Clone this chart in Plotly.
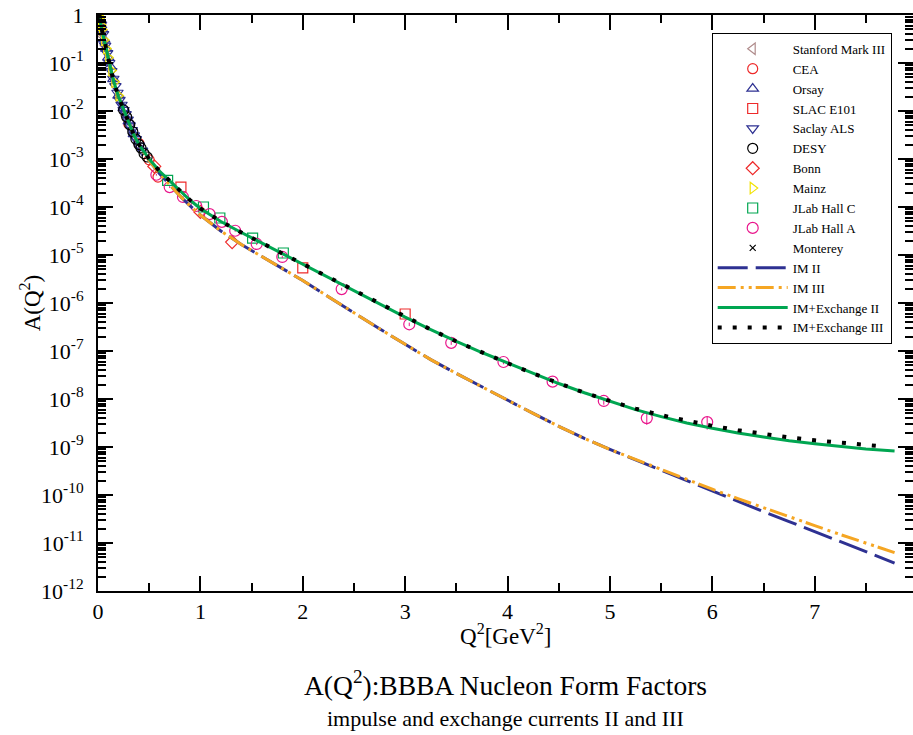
import plotly.graph_objects as go

# ---------------- data ----------------
# theory curves
q_curve = [0, 0.02, 0.05, 0.1, 0.15, 0.2, 0.25, 0.3, 0.35, 0.4, 0.45, 0.5, 0.6, 0.7, 0.8,
           0.9, 1.0, 1.2, 1.4, 1.6, 1.8, 2.0, 2.25, 2.5, 2.75, 3.0, 3.25, 3.5, 3.75, 4.0,
           4.25, 4.5, 4.75, 5.0, 5.25, 5.5, 5.75, 6.0, 6.25, 6.5, 6.75, 7.0, 7.25, 7.5, 7.78]
imx2 = [1.0, 0.76, 0.38, 0.126, 0.0437, 0.020, 0.0107, 5.75e-3, 3.16e-3, 2.0e-3, 1.38e-3, 1.0e-3,
        5.6e-4, 3.47e-4, 2.14e-4, 1.38e-4, 9.3e-5, 5.0e-5, 2.95e-5, 1.78e-5, 1.05e-5, 6.3e-6,
        3.4e-6, 1.82e-6, 9.8e-7, 5.1e-7, 2.8e-7, 1.58e-7, 9.3e-8, 5.6e-8, 3.4e-8, 2.1e-8,
        1.35e-8, 8.9e-9, 6.0e-9, 4.3e-9, 3.16e-9, 2.45e-9, 1.95e-9, 1.62e-9, 1.35e-9, 1.17e-9,
        1.02e-9, 9.1e-10, 8.3e-10]
im2 = [1.0, 0.76, 0.38, 0.126, 0.0437, 0.020, 0.0107, 5.75e-3, 3.16e-3, 2.0e-3, 1.38e-3, 9.3e-4,
       5.0e-4, 2.9e-4, 1.7e-4, 1.05e-4, 6.8e-5, 3.16e-5, 1.66e-5, 9.3e-6, 5.2e-6, 2.95e-6,
       1.35e-6, 6.2e-7, 2.9e-7, 1.38e-7, 6.6e-8, 3.4e-8, 1.78e-8, 9.3e-9, 5.0e-9, 2.7e-9,
       1.51e-9, 8.9e-10, 5.4e-10, 3.2e-10, 1.95e-10, 1.2e-10, 7.4e-11, 4.5e-11, 2.8e-11,
       1.74e-11, 1.07e-11, 6.6e-12, 3.8e-12]
im3 = [1.0, 0.76, 0.38, 0.126, 0.0437, 0.020, 0.0107, 5.75e-3, 3.16e-3, 2.0e-3, 1.38e-3, 9.3e-4,
       5.0e-4, 2.9e-4, 1.7e-4, 1.05e-4, 6.8e-5, 3.16e-5, 1.66e-5, 9.3e-6, 5.2e-6, 2.95e-6,
       1.35e-6, 6.2e-7, 2.9e-7, 1.38e-7, 6.6e-8, 3.4e-8, 1.78e-8, 9.3e-9, 5.0e-9, 2.7e-9,
       1.51e-9, 8.9e-10, 5.5e-10, 3.4e-10, 2.1e-10, 1.32e-10, 8.4e-11, 5.4e-11, 3.5e-11,
       2.3e-11, 1.5e-11, 9.8e-12, 6.3e-12]
q_imx3 = [0, 0.02, 0.05, 0.1, 0.15, 0.2, 0.25, 0.3, 0.35, 0.4, 0.45, 0.5, 0.6, 0.7, 0.8,
          0.9, 1.0, 1.2, 1.4, 1.6, 1.8, 2.0, 2.25, 2.5, 2.75, 3.0, 3.25, 3.5, 3.75, 4.0,
          4.25, 4.5, 4.75, 5.0, 5.25, 5.5, 5.75, 6.0, 6.25, 6.5, 6.75, 7.0, 7.25, 7.5, 7.68]
imx3 = [1.0, 0.76, 0.38, 0.126, 0.0437, 0.020, 0.0107, 5.75e-3, 3.16e-3, 2.0e-3, 1.38e-3, 1.0e-3,
        5.6e-4, 3.47e-4, 2.14e-4, 1.38e-4, 9.3e-5, 5.0e-5, 2.95e-5, 1.78e-5, 1.05e-5, 6.3e-6,
        3.4e-6, 1.82e-6, 9.8e-7, 5.1e-7, 2.8e-7, 1.58e-7, 9.3e-8, 5.6e-8, 3.4e-8, 2.1e-8,
        1.35e-8, 9.1e-9, 6.3e-9, 4.6e-9, 3.5e-9, 2.75e-9, 2.24e-9, 1.86e-9, 1.58e-9, 1.38e-9,
        1.23e-9, 1.1e-9, 1.02e-9]

# experimental data
stanford_q = [0.01, 0.03, 0.05, 0.07, 0.27]
stanford_a = [0.85, 0.58, 0.36, 0.23, 8.0e-3]
cea_q = [0.30, 0.40, 0.50, 0.586]
cea_a = [5.4e-3, 2.1e-3, 9.6e-4, 4.2e-4]
orsay_q = [0.005, 0.01, 0.02, 0.03, 0.04, 0.06, 0.08, 0.10, 0.12, 0.15, 0.20, 0.25, 0.30, 0.35]
orsay_a = [0.94, 0.87, 0.74, 0.61, 0.50, 0.31, 0.20, 0.13, 0.085, 0.046, 0.021, 0.0115, 0.0061, 0.0033]
slac_q = [0.81, 2.0, 3.0]
slac_a = [2.6e-4, 5.4e-6, 5.9e-7]
saclay_q = [0.03, 0.05, 0.07, 0.09, 0.11, 0.13, 0.15, 0.17, 0.19, 0.21, 0.23, 0.25, 0.27,
            0.29, 0.31, 0.33, 0.35, 0.37, 0.40, 0.43]
saclay_a = [0.63, 0.40, 0.23, 0.16, 0.10, 0.068, 0.047, 0.033, 0.024, 0.017, 0.0135, 0.0105,
            0.0086, 0.0066, 0.0050, 0.0040, 0.0031, 0.0026, 0.0019, 0.0015]
desy_q = [0.25, 0.28, 0.31, 0.34, 0.37, 0.40, 0.42, 0.45, 0.48]
desy_a = [0.0105, 0.0075, 0.0052, 0.0037, 0.0026, 0.0020, 0.0017, 0.0013, 0.0011]
bonn_q = [0.55, 1.0, 1.31]
bonn_a = [7.0e-4, 7.9e-5, 1.86e-5]
mainz_q = [0.002, 0.005, 0.01, 0.015, 0.02, 0.03, 0.04, 0.06, 0.08, 0.10, 0.13, 0.16, 0.20]
mainz_a = [0.97, 0.93, 0.86, 0.80, 0.75, 0.62, 0.50, 0.30, 0.20, 0.13, 0.07, 0.040, 0.021]
hallc_q = [0.68, 1.03, 1.19, 1.51, 1.81]
hallc_a = [3.6e-4, 1.0e-4, 5.9e-5, 2.24e-5, 1.1e-5]
halla_q = [0.57, 0.70, 0.83, 0.96, 1.09, 1.21, 1.34, 1.55, 1.80, 2.38, 3.04, 3.45, 3.96,
           4.44, 4.94, 5.36, 5.95]
halla_a = [4.7e-4, 2.6e-4, 1.62e-4, 1.05e-4, 7.1e-5, 4.9e-5, 3.2e-5, 1.7e-5, 9.1e-6, 1.95e-6,
           3.6e-7, 1.48e-7, 5.9e-8, 2.3e-8, 9.1e-9, 4.0e-9, 3.3e-9]
halla_err = [2.0e-5, 1.2e-5, 8.0e-6, 5.0e-6, 3.5e-6, 2.5e-6, 1.6e-6, 9.0e-7, 5.0e-7, 1.2e-7,
             3.0e-8, 1.4e-8, 6.0e-9, 2.5e-9, 1.5e-9, 1.1e-9, 1.0e-9]
monterey_q = [0.003, 0.008, 0.015]
monterey_a = [0.96, 0.89, 0.80]

y_tickvals = [1, 1e-1, 1e-2, 1e-3, 1e-4, 1e-5, 1e-6, 1e-7, 1e-8, 1e-9, 1e-10, 1e-11, 1e-12]
y_ticktext = ["1"] + ["10<sup>-%d</sup>" % k for k in range(1, 13)]
x_tickvals = [0, 1, 2, 3, 4, 5, 6, 7]

# ---------------- figure ----------------
FONT = "Liberation Serif"
RED = "#ee2a2a"
NAVY = "#2e3192"
GREEN = "#00a651"
MAG = "#e9168c"
ORANGE = "#f5a623"

fig = go.Figure()

def mk(name, q, a, symbol, color, size=10, err=None):
    tr = go.Scatter(x=q, y=a, mode="markers", name=name,
                    marker=dict(symbol=symbol, size=size, color=color,
                                line=dict(color=color, width=1.2)))
    if err is not None:
        tr.error_y = dict(type="data", array=err, visible=True, color=color,
                          thickness=1, width=0)
    fig.add_trace(tr)

mk("Stanford Mark III", stanford_q, stanford_a, "triangle-left-open", "#b08c8c")
mk("CEA", cea_q, cea_a, "circle-open", RED)
mk("Orsay", orsay_q, orsay_a, "triangle-up-open", NAVY)
mk("SLAC E101", slac_q, slac_a, "square-open", RED)
mk("Saclay ALS", saclay_q, saclay_a, "triangle-down-open", NAVY)
mk("DESY", desy_q, desy_a, "circle-open", "black")
mk("Bonn", bonn_q, bonn_a, "diamond-open", RED)
mk("Mainz", mainz_q, mainz_a, "triangle-right-open", "#f2e200")
mk("JLab Hall C", hallc_q, hallc_a, "square-open", GREEN)
mk("JLab Hall A", halla_q, halla_a, "circle-open", MAG, size=11, err=halla_err)
mk("Monterey", monterey_q, monterey_a, "x-thin-open", "black", size=6)

fig.add_trace(go.Scatter(x=q_curve, y=im2, mode="lines", name="IM II",
                         line=dict(color=NAVY, width=3, dash="30px,8px")))
fig.add_trace(go.Scatter(x=q_curve, y=im3, mode="lines", name="IM III",
                         line=dict(color=ORANGE, width=3, dash="18px,5px,3px,5px,3px,4px")))
fig.add_trace(go.Scatter(x=q_curve, y=imx2, mode="lines", name="IM+Exchange II",
                         line=dict(color=GREEN, width=3)))
fig.add_trace(go.Scatter(x=q_imx3, y=imx3, mode="lines", name="IM+Exchange III",
                         line=dict(color="black", width=4, dash="4px,11px")))

axis_common = dict(showline=True, linecolor="black", linewidth=2, mirror="ticks",
                   ticks="inside", tickcolor="black", tickwidth=1.5, ticklen=15,
                   showgrid=False, zeroline=False,
                   tickfont=dict(family=FONT, size=22, color="black"))

fig.update_xaxes(range=[0, 7.96], tickvals=x_tickvals,
                 minor=dict(ticks="inside", ticklen=8, tickcolor="black", tickwidth=1.5,
                            dtick=0.5, showgrid=False),
                 **axis_common)
fig.update_yaxes(type="log", range=[-12, 0], tickvals=y_tickvals, ticktext=y_ticktext,
                 ticklabelstandoff=8,
                 minor=dict(ticks="inside", ticklen=8, tickcolor="black", tickwidth=1.5,
                            dtick="D1", showgrid=False),
                 **axis_common)

fig.update_layout(
    width=913, height=735,
    margin=dict(l=98, r=0, t=15, b=144, autoexpand=False),
    paper_bgcolor="white", plot_bgcolor="white",
    font=dict(family=FONT, color="black"),
    showlegend=True,
    legend=dict(x=0.753, y=0.969, xanchor="left", yanchor="top",
                bgcolor="white", bordercolor="black", borderwidth=1,
                font=dict(family=FONT, size=13, color="black"),
                itemwidth=70, tracegroupgap=0),
    annotations=[
        dict(text="Q<sup>2</sup>[GeV<sup>2</sup>]", xref="paper", yref="paper",
             x=0.5, y=-0.076, xanchor="center", yanchor="middle", showarrow=False,
             font=dict(family=FONT, size=23, color="black")),
        dict(text="A(Q<sup>2</sup>)", xref="paper", yref="paper", textangle=-90,
             x=-0.083, y=0.5, xanchor="center", yanchor="middle", showarrow=False,
             font=dict(family=FONT, size=23, color="black")),
        dict(text="A(Q<sup>2</sup>):BBBA Nucleon Form Factors", xref="paper", yref="paper",
             x=0.5, y=-0.16, xanchor="center", yanchor="middle", showarrow=False,
             font=dict(family=FONT, size=27.5, color="black")),
        dict(text="impulse and exchange currents II and III", xref="paper", yref="paper",
             x=0.5, y=-0.2205, xanchor="center", yanchor="middle", showarrow=False,
             font=dict(family=FONT, size=22, color="black")),
    ],
)

fig.write_html("out.html")
